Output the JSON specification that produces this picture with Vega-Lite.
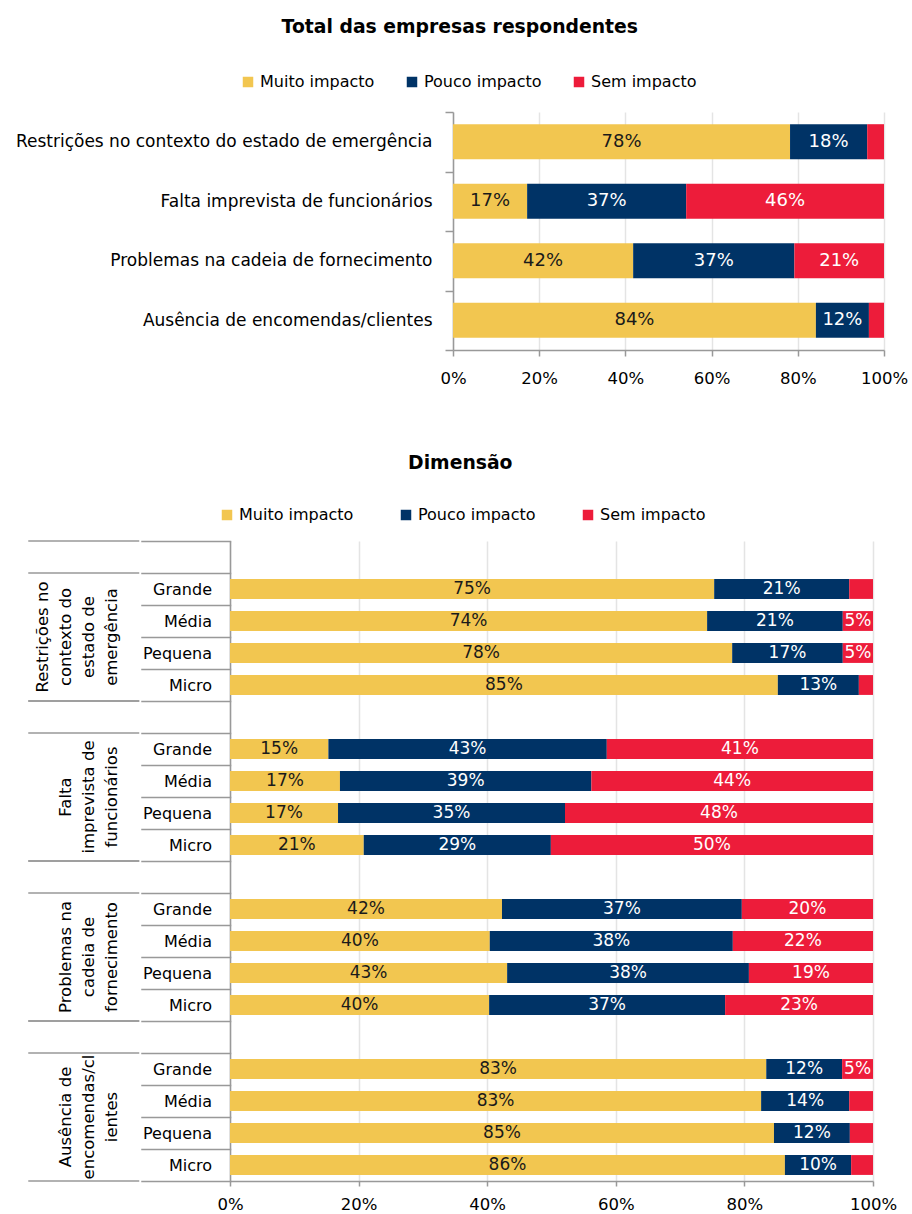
{
  "$schema": "https://vega.github.io/schema/vega-lite/v6.json",
  "background": "white",
  "padding": {"left": 12, "top": 18, "right": 0, "bottom": 0},
  "config": {
    "font": "DejaVu Sans",
    "view": {"stroke": null},
    "axis": {"labelColor": "#000000", "domainColor": "#999999", "tickColor": "#999999", "domainWidth": 1.5, "tickWidth": 1.5, "gridColor": "#e4e4e4", "gridWidth": 1.5}
  },
  "datasets": {
    "total": [
      {"cat": "Restrições no contexto do estado de emergência", "impact": "Muito impacto", "v": 0.782},
      {"cat": "Restrições no contexto do estado de emergência", "impact": "Pouco impacto", "v": 0.179},
      {"cat": "Restrições no contexto do estado de emergência", "impact": "Sem impacto", "v": 0.039},
      {"cat": "Falta imprevista de funcionários", "impact": "Muito impacto", "v": 0.172},
      {"cat": "Falta imprevista de funcionários", "impact": "Pouco impacto", "v": 0.369},
      {"cat": "Falta imprevista de funcionários", "impact": "Sem impacto", "v": 0.459},
      {"cat": "Problemas na cadeia de fornecimento", "impact": "Muito impacto", "v": 0.418},
      {"cat": "Problemas na cadeia de fornecimento", "impact": "Pouco impacto", "v": 0.374},
      {"cat": "Problemas na cadeia de fornecimento", "impact": "Sem impacto", "v": 0.208},
      {"cat": "Ausência de encomendas/clientes", "impact": "Muito impacto", "v": 0.842},
      {"cat": "Ausência de encomendas/clientes", "impact": "Pouco impacto", "v": 0.123},
      {"cat": "Ausência de encomendas/clientes", "impact": "Sem impacto", "v": 0.035}
    ],
    "dim": [
      {"slot": "R|Grande", "impact": "Muito impacto", "v": 0.753},
      {"slot": "R|Grande", "impact": "Pouco impacto", "v": 0.210},
      {"slot": "R|Grande", "impact": "Sem impacto", "v": 0.037},
      {"slot": "R|Média", "impact": "Muito impacto", "v": 0.742},
      {"slot": "R|Média", "impact": "Pouco impacto", "v": 0.211},
      {"slot": "R|Média", "impact": "Sem impacto", "v": 0.047},
      {"slot": "R|Pequena", "impact": "Muito impacto", "v": 0.781},
      {"slot": "R|Pequena", "impact": "Pouco impacto", "v": 0.172},
      {"slot": "R|Pequena", "impact": "Sem impacto", "v": 0.047},
      {"slot": "R|Micro", "impact": "Muito impacto", "v": 0.852},
      {"slot": "R|Micro", "impact": "Pouco impacto", "v": 0.126},
      {"slot": "R|Micro", "impact": "Sem impacto", "v": 0.022},
      {"slot": "F|Grande", "impact": "Muito impacto", "v": 0.153},
      {"slot": "F|Grande", "impact": "Pouco impacto", "v": 0.433},
      {"slot": "F|Grande", "impact": "Sem impacto", "v": 0.414},
      {"slot": "F|Média", "impact": "Muito impacto", "v": 0.171},
      {"slot": "F|Média", "impact": "Pouco impacto", "v": 0.391},
      {"slot": "F|Média", "impact": "Sem impacto", "v": 0.438},
      {"slot": "F|Pequena", "impact": "Muito impacto", "v": 0.168},
      {"slot": "F|Pequena", "impact": "Pouco impacto", "v": 0.353},
      {"slot": "F|Pequena", "impact": "Sem impacto", "v": 0.479},
      {"slot": "F|Micro", "impact": "Muito impacto", "v": 0.208},
      {"slot": "F|Micro", "impact": "Pouco impacto", "v": 0.291},
      {"slot": "F|Micro", "impact": "Sem impacto", "v": 0.501},
      {"slot": "P|Grande", "impact": "Muito impacto", "v": 0.423},
      {"slot": "P|Grande", "impact": "Pouco impacto", "v": 0.373},
      {"slot": "P|Grande", "impact": "Sem impacto", "v": 0.204},
      {"slot": "P|Média", "impact": "Muito impacto", "v": 0.404},
      {"slot": "P|Média", "impact": "Pouco impacto", "v": 0.378},
      {"slot": "P|Média", "impact": "Sem impacto", "v": 0.218},
      {"slot": "P|Pequena", "impact": "Muito impacto", "v": 0.431},
      {"slot": "P|Pequena", "impact": "Pouco impacto", "v": 0.376},
      {"slot": "P|Pequena", "impact": "Sem impacto", "v": 0.193},
      {"slot": "P|Micro", "impact": "Muito impacto", "v": 0.403},
      {"slot": "P|Micro", "impact": "Pouco impacto", "v": 0.367},
      {"slot": "P|Micro", "impact": "Sem impacto", "v": 0.230},
      {"slot": "A|Grande", "impact": "Muito impacto", "v": 0.834},
      {"slot": "A|Grande", "impact": "Pouco impacto", "v": 0.118},
      {"slot": "A|Grande", "impact": "Sem impacto", "v": 0.048},
      {"slot": "A|Média", "impact": "Muito impacto", "v": 0.826},
      {"slot": "A|Média", "impact": "Pouco impacto", "v": 0.137},
      {"slot": "A|Média", "impact": "Sem impacto", "v": 0.037},
      {"slot": "A|Pequena", "impact": "Muito impacto", "v": 0.846},
      {"slot": "A|Pequena", "impact": "Pouco impacto", "v": 0.118},
      {"slot": "A|Pequena", "impact": "Sem impacto", "v": 0.036},
      {"slot": "A|Micro", "impact": "Muito impacto", "v": 0.863},
      {"slot": "A|Micro", "impact": "Pouco impacto", "v": 0.103},
      {"slot": "A|Micro", "impact": "Sem impacto", "v": 0.034}
    ],
    "groups": [
      {"blank": "R|", "mid": "R|Média", "last": "R|Micro", "label": "Restrições no\ncontexto do\nestado de\nemergência"},
      {"blank": "F|", "mid": "F|Média", "last": "F|Micro", "label": "\nFalta\nimprevista de\nfuncionários"},
      {"blank": "P|", "mid": "P|Média", "last": "P|Micro", "label": "\nProblemas na\ncadeia de\nfornecimento"},
      {"blank": "A|", "mid": "A|Média", "last": "A|Micro", "label": "\nAusência de\nencomendas/cl\nientes"}
    ]
  },
  "vconcat": [
    {
      "title": {"text": "Total das empresas respondentes", "fontSize": 18.8, "fontWeight": "bold", "anchor": "middle", "offset": 37, "color": "#000000"},
      "spacing": 0,
      "resolve": {"scale": {"color": "independent"}},
      "hconcat": [
        {
          "width": 1,
          "height": 238,
          "data": {"values": []},
          "mark": "point"
        },
        {
          "width": 431,
          "height": 238,
          "data": {"name": "total"},
          "encoding": {
            "y": {"field": "cat", "type": "nominal", "sort": null, "scale": {"paddingInner": 0, "paddingOuter": 0},
              "axis": {"title": null, "tickBand": "extent", "tickSize": 8, "labelPadding": 13, "labelFontSize": 17, "labelLimit": 0, "minExtent": 440, "maxExtent": 440}}
          },
          "layer": [
            {
              "mark": {"type": "bar", "height": {"band": 0.59}},
              "encoding": {
                "x": {"field": "v", "type": "quantitative", "stack": "zero", "scale": {"domain": [0, 1], "nice": false},
                  "axis": {"title": null, "format": ".0%", "values": [0, 0.2, 0.4, 0.6, 0.8, 1], "grid": true, "tickSize": 6, "labelPadding": 14, "labelFontSize": 16.5, "labelFlush": false}},
                "order": {"field": "impact", "type": "ordinal", "sort": "ascending"},
                "color": {"field": "impact", "type": "nominal",
                  "scale": {"domain": ["Muito impacto", "Pouco impacto", "Sem impacto"], "range": ["#F2C650", "#003366", "#ED1C3A"]},
                  "legend": {"orient": "none", "legendX": -213, "legendY": -38, "direction": "horizontal", "title": null, "symbolType": "square", "symbolSize": 110, "symbolStrokeWidth": 0, "labelFontSize": 16, "columnPadding": 29, "padding": 0, "labelColor": "#000000"}}
              }
            },
            {
              "transform": [{"filter": "datum.v >= 0.045"}],
              "mark": {"type": "text", "fontSize": 18, "align": "center", "baseline": "middle"},
              "encoding": {
                "x": {"field": "v", "type": "quantitative", "stack": "zero", "bandPosition": 0.5},
                "detail": {"field": "impact", "type": "nominal"},
                "order": {"field": "impact", "type": "ordinal", "sort": "ascending"},
                "text": {"field": "v", "type": "quantitative", "format": ".0%"},
                "color": {"condition": {"test": "datum.impact === 'Muito impacto'", "value": "#1a1a1a"}, "value": "#ffffff"}
              }
            }
          ]
        }
      ]
    },
    {
      "title": {"text": "Dimensão", "fontSize": 18.8, "fontWeight": "bold", "anchor": "middle", "offset": 34, "dx": 6, "color": "#000000"},
      "spacing": 0,
      "resolve": {"scale": {"color": "independent"}},
      "hconcat": [
        {
          "width": 15,
          "height": 640,
          "data": {"values": []},
          "mark": "point"
        },
        {
          "width": 109.5,
          "height": 640,
          "data": {"name": "groups"},
          "layer": [
            {
              "mark": {"type": "rule", "color": "#999999", "strokeWidth": 1.5, "strokeCap": "square"},
              "encoding": {"y": {"field": "blank", "type": "nominal", "bandPosition": 0, "axis": null,
                "scale": {"domain": ["R|", "R|Grande", "R|Média", "R|Pequena", "R|Micro", "F|", "F|Grande", "F|Média", "F|Pequena", "F|Micro", "P|", "P|Grande", "P|Média", "P|Pequena", "P|Micro", "A|", "A|Grande", "A|Média", "A|Pequena", "A|Micro"], "paddingInner": 0, "paddingOuter": 0}}}
            },
            {
              "mark": {"type": "rule", "color": "#999999", "strokeWidth": 1.5, "strokeCap": "square"},
              "encoding": {"y": {"field": "blank", "type": "nominal", "bandPosition": 1, "axis": null}}
            },
            {
              "mark": {"type": "rule", "color": "#999999", "strokeWidth": 1.5, "strokeCap": "square"},
              "encoding": {"y": {"field": "last", "type": "nominal", "bandPosition": 1, "axis": null}}
            },
            {
              "mark": {"type": "text", "angle": 270, "align": "center", "baseline": "middle", "lineBreak": "\n", "fontSize": 16.5, "lineHeight": 23, "dy": -41, "color": "#000000"},
              "encoding": {
                "y": {"field": "mid", "type": "nominal", "bandPosition": 1, "axis": null},
                "text": {"field": "label", "type": "nominal"}
              }
            }
          ]
        },
        {
          "width": 643,
          "height": 640,
          "data": {"name": "dim"},
          "encoding": {
            "y": {"field": "slot", "type": "nominal",
              "scale": {"domain": ["R|", "R|Grande", "R|Média", "R|Pequena", "R|Micro", "F|", "F|Grande", "F|Média", "F|Pequena", "F|Micro", "P|", "P|Grande", "P|Média", "P|Pequena", "P|Micro", "A|", "A|Grande", "A|Média", "A|Pequena", "A|Micro"], "paddingInner": 0, "paddingOuter": 0},
              "axis": {"title": null, "tickBand": "extent", "tickSize": 88.5, "tickCap": "square", "labelPadding": -70, "labelExpr": "split(datum.label, '|')[1]", "labelFontSize": 16, "labelAlign": "right", "labelBaseline": "middle", "minExtent": 88.5, "maxExtent": 88.5, "labelLimit": 0}}
          },
          "layer": [
            {
              "mark": {"type": "bar", "height": {"band": 0.62}},
              "encoding": {
                "x": {"field": "v", "type": "quantitative", "stack": "zero", "scale": {"domain": [0, 1], "nice": false},
                  "axis": {"title": null, "format": ".0%", "values": [0, 0.2, 0.4, 0.6, 0.8, 1], "grid": true, "tickSize": 5, "labelPadding": 10, "labelFontSize": 16.5, "labelFlush": false}},
                "order": {"field": "impact", "type": "ordinal", "sort": "ascending"},
                "color": {"field": "impact", "type": "nominal",
                  "scale": {"domain": ["Muito impacto", "Pouco impacto", "Sem impacto"], "range": ["#F2C650", "#003366", "#ED1C3A"]},
                  "legend": {"orient": "none", "legendX": -11, "legendY": -34, "direction": "horizontal", "title": null, "symbolType": "square", "symbolSize": 110, "symbolStrokeWidth": 0, "labelFontSize": 16, "columnPadding": 44, "padding": 0, "labelColor": "#000000"}}
              }
            },
            {
              "transform": [{"filter": "datum.v >= 0.045"}],
              "mark": {"type": "text", "fontSize": 17, "align": "center", "baseline": "middle"},
              "encoding": {
                "x": {"field": "v", "type": "quantitative", "stack": "zero", "bandPosition": 0.5},
                "detail": {"field": "impact", "type": "nominal"},
                "order": {"field": "impact", "type": "ordinal", "sort": "ascending"},
                "text": {"field": "v", "type": "quantitative", "format": ".0%"},
                "color": {"condition": {"test": "datum.impact === 'Muito impacto'", "value": "#1a1a1a"}, "value": "#ffffff"}
              }
            }
          ]
        }
      ]
    }
  ],
  "spacing": 67,
  "resolve": {"scale": {"color": "independent"}}
}
